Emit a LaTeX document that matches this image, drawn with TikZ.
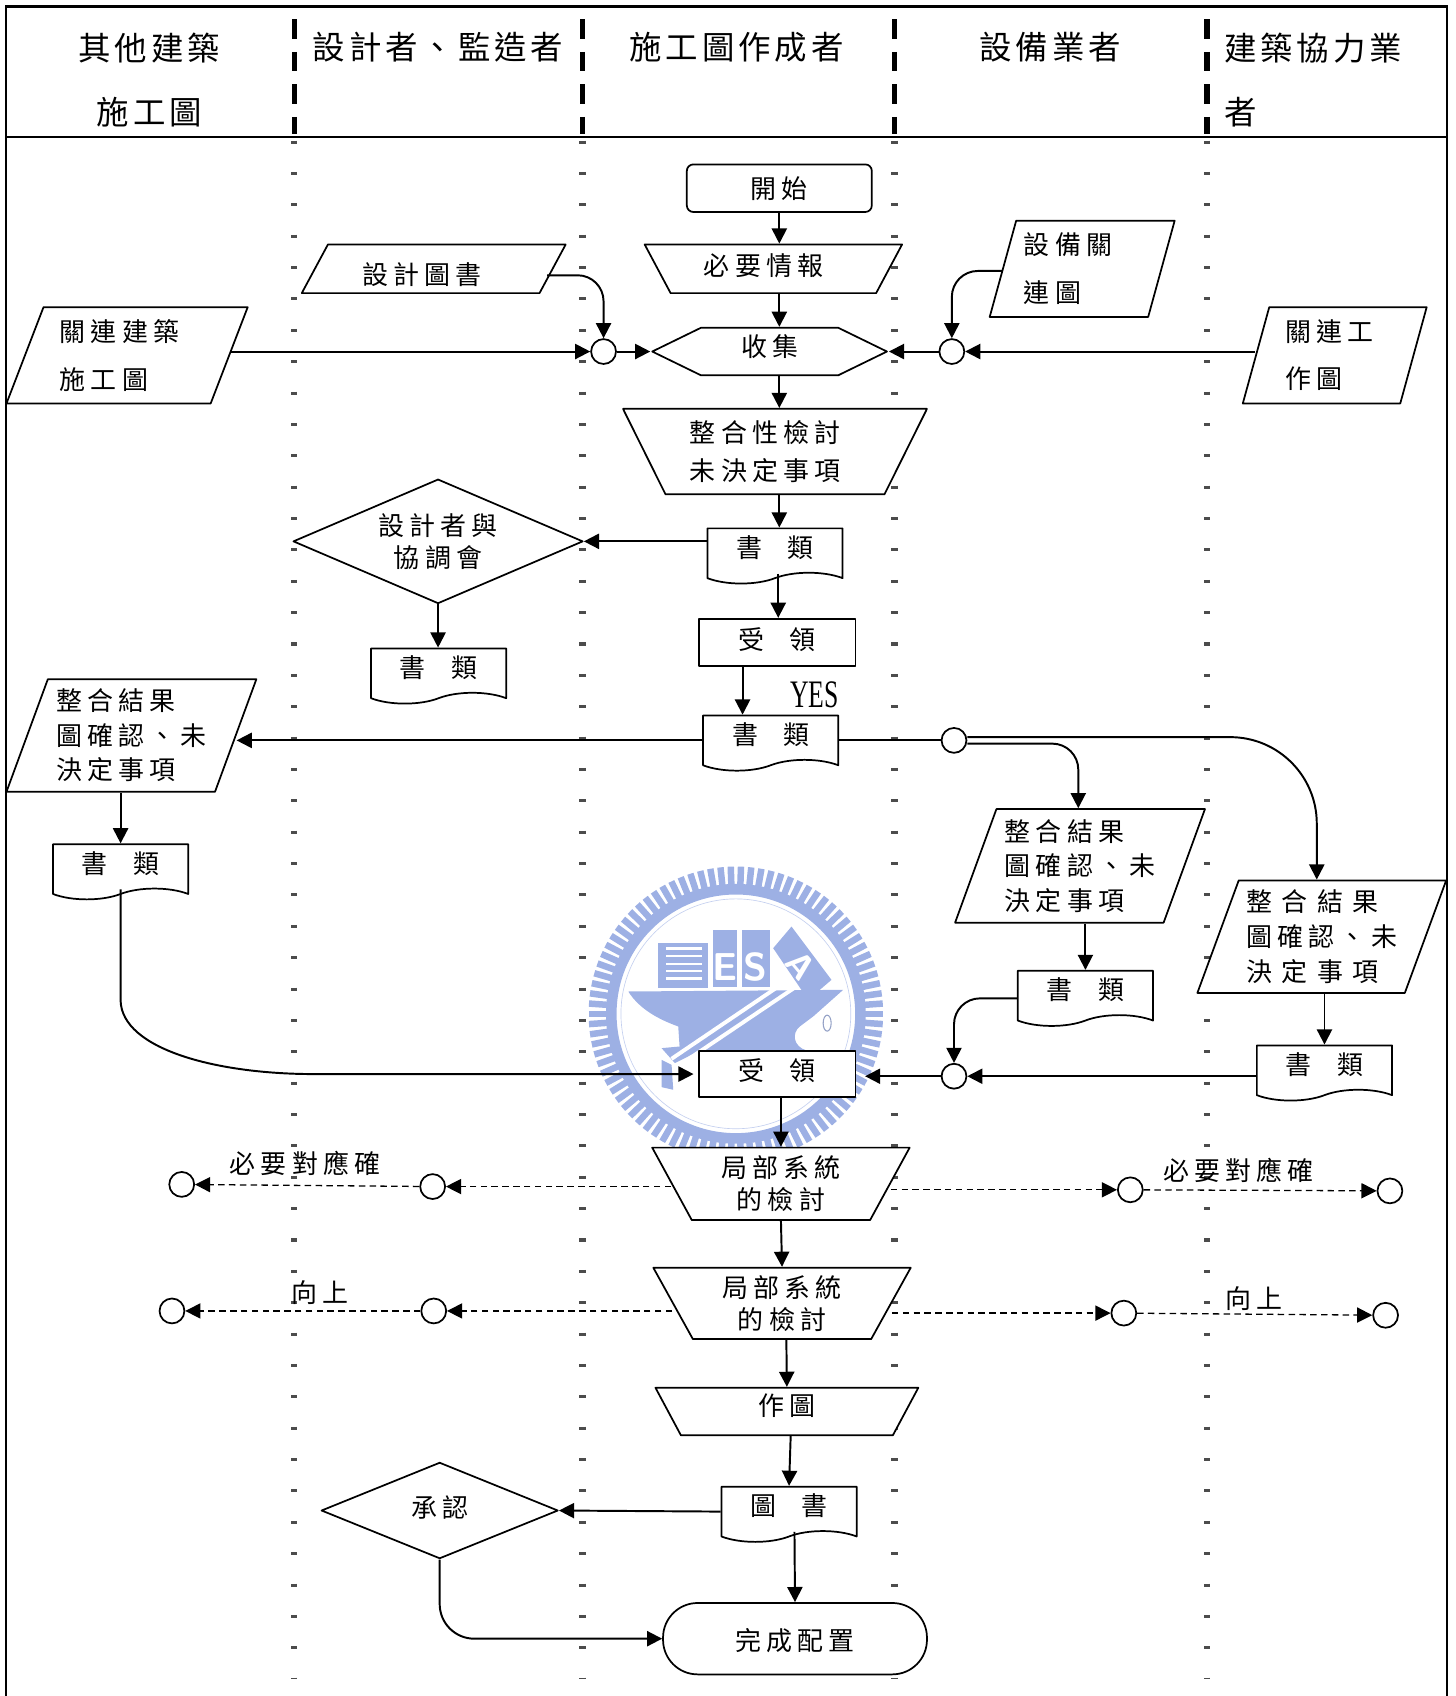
\documentclass[tikz,border=0pt]{standalone}
\usepackage{fontspec}
\usepackage{xcolor}
\usepackage{tikz}
\usetikzlibrary{arrows.meta}
\usetikzlibrary{shapes.geometric,shapes.symbols}
\newfontfamily\cjkhead[LetterSpace=12]{Noto Sans CJK TC}
\newfontfamily\cjkbody[LetterSpace=20,WordSpace=2.3]{Noto Sans CJK TC}
\newfontfamily\cjktight[LetterSpace=19.9,WordSpace=0.85]{Noto Sans CJK TC}
\newfontfamily\latinfont{Liberation Serif}
\definecolor{logoblue}{HTML}{9DB0E4}
\newcommand{\lifttext}[2]{\raisebox{#1}[\height][\depth]{#2}}
\def\framebot{1568}
\def\framelft{5.5}
\def\framergt{1338}

\begin{document}
\begin{tikzpicture}[x=0.5pt, y=-0.5pt,
		>={Triangle[length=7pt,width=7pt]},
		boxline/.style={draw, line width=0.8pt, line join=round, fill=white, inner sep=0pt, font=\cjkbody\fontsize{12}{15}\selectfont},
		leading/.style={font=\cjkbody\fontsize{12}{#1}\selectfont},
		headtext/.style={font=\cjkhead\fontsize{15}{30}\selectfont, inner sep=0pt},
		plaintext/.style={font=\cjkbody\fontsize{12}{15}\selectfont, inner sep=0pt},
		databox/.style={boxline, shape=trapezium, trapezium stretches body, trapezium left angle=#1, trapezium right angle={180-#1}, align=left},
		workbox/.style={boxline, shape=trapezium, trapezium stretches body, trapezium left angle=#1, trapezium right angle=#1, align=center},
		docbox/.style={boxline, shape=tape, tape bend top=none, tape bend bottom=in and out, tape bend height=5pt, minimum width=62.5pt, minimum height=25.5pt},
		recvbox/.style={boxline, rectangle, minimum width=72.5pt, minimum height=22pt},
		meetbox/.style={boxline, shape=diamond, aspect=2.3, align=center},
		joint/.style={draw, line width=0.8pt, fill=white, circle, inner sep=0pt, minimum size=11.5pt},
		link/.style={->, line width=0.9pt},
		dashlink/.style={->, line width=0.6pt, dash pattern=on 3pt off 2pt},
	]
	\useasboundingbox (0,0) rectangle (1346,1568);

	\begin{scope}[shift={(517.7,795)}, x=0.154pt, y=-0.154pt]
		\foreach \a in {0,4,...,356}
			\draw[logoblue, line width=3pt] (528,462) ++(\a:385) -- ++(\a:57);
		\draw[logoblue, line width=4.9pt] (528,462) circle (374);
		\draw[logoblue!60, line width=0.3pt] (528,462) circle (345);
		\fill[logoblue] (295,250) rectangle (445,385);
		\foreach \y in {262,285,308,330,352}
			\fill[white] (318,\y) rectangle (425,\y+7);
		\fill[logoblue] (460,210) rectangle (530,380);
		\fill[logoblue] (545,210) rectangle (630,380);
		\fill[logoblue] (640,265) -- (695,200) -- (815,360) -- (745,420) -- cycle;
		\fill[logoblue] (205,395) -- (850,390) -- (760,470) -- (720,500) .. controls (695,520) and (700,560) .. (740,572) -- (420,572) -- (360,575) -- (355,500) .. controls (300,480) and (240,450) .. cycle;
		\fill[logoblue] (305,565) -- (345,610) -- (420,572) -- (360,560) -- cycle;
		\fill[logoblue] (305,600) -- (335,615) -- (340,690) -- (305,682) -- cycle;
		\draw[white, line width=1.8pt] (335,597) -- (685,360);
		\draw[white, line width=1.8pt] (365,612) -- (702,385);
		\draw[logoblue!70!gray, line width=0.5pt] (802,490) ellipse (12 and 24);
		\node[white, font=\sffamily\bfseries\fontsize{18}{18}\selectfont] (logoe) at (495,322) {E};
		\node[white, font=\sffamily\bfseries\fontsize{18}{18}\selectfont] (logos) at (587,322) {S};
		\node[white, rotate=-50, font=\sffamily\bfseries\fontsize{16}{16}\selectfont] (logoa) at (722,318) {A};
	\end{scope}

	\draw[line width=1pt] (\framelft,\framebot) -- (\framelft,6) -- (\framergt,6) -- (\framergt,\framebot);
	\draw[line width=1pt] (\framelft,127) -- (\framergt,127);
	\foreach \lanex in {272,538.5,827,1116} {
		\draw[line width=2.5pt, dash pattern=on 9pt off 6pt] (\lanex,18) -- (\lanex,124);
		\draw[line width=3pt, black!70, dash pattern=on 1.4pt off 13.1pt] (\lanex,130) -- (\lanex,1552);
	}

	\node[headtext, align=center] (headother) at (138,74) {其他建築\\施工圖};
	\node[headtext] (headdesign) at (405,44) {設計者、監造者};
	\node[headtext] (headshop) at (681,44) {施工圖作成者};
	\node[headtext] (headequip) at (971,44) {設備業者};
	\node[headtext, align=left] (headpartner) at (1214,74) {建築協力業\\者};

	\node[boxline, rectangle, rounded corners=3pt, minimum width=85.5pt, minimum height=22pt] (start) at (720.5,174) {開始};
	\node[workbox=137, minimum width=119pt, minimum height=22.5pt] (info) at (715,248.5) {\lifttext{1.5pt}{必要情報\hspace*{9pt}}};
	\node[databox=42.6, minimum width=122pt, minimum height=22.5pt] (designdoc) at (401,248.5) {\lifttext{-2.5pt}{設計圖書\hspace*{11pt}}};
	\node[databox=69.7, minimum width=85.5pt, minimum height=44.5pt, leading=22pt] (equipdoc) at (1000.5,248.5) {設備關\hspace*{13pt}\\連圖};
	\node[databox=62.7, minimum width=111.5pt, minimum height=44.5pt, leading=22pt] (otherdoc) at (117.5,328.5) {關連建築\hspace*{7pt}\\施工圖};
	\node[databox=69.7, minimum width=85pt, minimum height=44.5pt, leading=22pt] (partnerdoc) at (1234,328.5) {關連工\hspace*{5pt}\\作圖};
	\node[joint] (mergel) at (558,325) {};
	\node[joint] (merger) at (880,325) {};
	\node[boxline, shape=signal, signal to=west and east, signal pointer angle=52, minimum width=108.5pt, minimum height=22pt] (collect) at (711.5,325) {\lifttext{2.5pt}{收集}};
	\node[workbox=124.4, minimum width=140.5pt, minimum height=39.5pt, leading=17.5pt] (check) at (716.5,417.5) {整合性檢討\hspace*{9pt}\\未決定事項\hspace*{9pt}};
	\node[docbox] (doca) at (716.5,509) {\lifttext{1.5pt}{書 類}};
	\node[meetbox, minimum width=134pt, minimum height=57.5pt] (meeting) at (405,500.5) {設計者與\\協調會};
	\node[docbox] (docb) at (405.5,620) {\lifttext{1.5pt}{書 類}};
	\node[recvbox] (recva) at (718.5,594) {\lifttext{1.5pt}{受 領}};
	\node[xscale=0.66, transform shape, inner sep=0pt, font=\latinfont\fontsize{18}{18}\selectfont] (yes) at (753,642) {YES};
	\node[docbox] (docc) at (712.5,682) {\lifttext{1.5pt}{書 類}};
	\node[joint] (mergec) at (882,684.5) {};
	\node[databox=66.1, minimum width=115.5pt, minimum height=52pt, leading=16pt] (resulta) at (121.5,680) {整合結果\\圖確認、未\\決定事項};
	\node[docbox] (docd) at (111.5,801) {\lifttext{1.5pt}{書 類}};
	\node[databox=66.1, minimum width=115.5pt, minimum height=52.5pt, leading=16pt] (resultb) at (998.5,800.5) {整合結果\\圖確認、未\\決定事項};
	\node[docbox] (doce) at (1003.5,918) {\lifttext{1.5pt}{書 類}};
	\node[databox=66.1, minimum width=115pt, minimum height=52pt, font=\cjktight\fontsize{12}{16}\selectfont] (resultc) at (1222,866) {整 合 結 果\\圖確認、未\\決 定 事 項};
	\node[docbox] (docf) at (1224.5,987) {\lifttext{1.5pt}{書 類}};
	\node[recvbox, minimum height=21.5pt] (recvb) at (718.5,993) {\lifttext{1.5pt}{受 領}};
	\node[joint] (merged) at (882,995) {};
	\node[workbox=125, minimum width=119pt, minimum height=33.5pt] (partcheck) at (722,1094.5) {局部系統\\的檢討};
	\node[workbox=125, minimum width=119pt, minimum height=33pt] (uppercheck) at (723,1205) {局部系統\\的檢討};
	\node[workbox=137, minimum width=121.5pt, minimum height=22pt] (drawing) at (727.5,1305) {\lifttext{2.5pt}{作圖}};
	\node[docbox] (docg) at (729.5,1395) {\lifttext{1.5pt}{圖 書}};
	\node[meetbox, minimum width=109.5pt, minimum height=44.5pt, aspect=2.4] (approve) at (406.5,1396.5) {\lifttext{1.5pt}{承認}};
	\node[boxline, rectangle, rounded corners=16pt, minimum width=122pt, minimum height=33pt] (finish) at (735,1515) {\lifttext{-1pt}{完成配置}};

	\node[joint] (needa) at (168,1095) {};
	\node[joint] (needb) at (400,1097) {};
	\node[joint] (needc) at (1045,1100) {};
	\node[joint] (needd) at (1285,1101) {};
	\node[joint] (upa) at (159,1212) {};
	\node[joint] (upb) at (401,1212) {};
	\node[joint] (upc) at (1039,1214) {};
	\node[joint] (upd) at (1281,1216) {};
	\node[plaintext] (needl) at (282,1076) {必要對應確};
	\node[plaintext] (needr) at (1145,1082) {必要對應確};
	\node[plaintext] (upl) at (296,1195) {向上};
	\node[plaintext] (upr) at (1159,1201) {向上};

	\draw[link] (start.south) -- (start.south |- info.top side);
	\draw[link] (start.south |- info.bottom side) -- (start.south |- collect.north);
	\draw[link] (start.south |- collect.south) -- (start.south |- check.top side);
	\draw[link] (start.south |- check.bottom side) -- (start.south |- doca.north);
	\draw[link] (otherdoc.right side |- mergel) -- (mergel);
	\draw[link, rounded corners=12pt] ([xshift=-3pt,yshift=-3pt]designdoc.right side) -| (mergel);
	\draw[link] (mergel) -- (collect.west);
	\draw[link] (partnerdoc.left side |- merger) -- (merger);
	\draw[link, rounded corners=12pt] ([yshift=-1pt]equipdoc.left side) -| (merger);
	\draw[link] (merger) -- (collect.east);
	\draw[link] (doca.west |- meeting.east) -- (meeting.east);
	\draw[link] (meeting.south) -- (meeting.south |- docb.north);
	\draw[link] ([xshift=1.5pt]doca.south) -- ([xshift=1.5pt]doca.south |- recva.north);
	\draw[link] ([xshift=-16pt]recva.south) -- ([xshift=-13pt]docc.north);
	\draw[link] (docc.west |- mergec) -- (mergec -| resulta.right side);
	\draw[line width=0.9pt] (docc.east |- mergec) -- (mergec);
	\draw[link, rounded corners=12pt] ([yshift=-1.5pt]mergec.east) -| ([xshift=-10.5pt]resultb.top side);
	\draw[link, rounded corners=40pt] ([yshift=1.5pt]mergec.east) -| ([xshift=-12pt]resultc.top side);
	\draw[link] (docd.north |- resulta.bottom side) -- (docd.north);
	\draw[link] (doce.north |- resultb.bottom side) -- (doce.north);
	\draw[link] (docf.north |- resultc.bottom side) -- (docf.north);
	\draw[link] (docd.south) -- ++(0,103) .. controls (113,970) and (200,993) .. (290,993) -- ([xshift=-2pt]recvb.west);
	\draw[link, rounded corners=12pt] ([yshift=-2.5pt]doce.west) -| (merged);
	\draw[link] (docf.west |- merged) -- (merged);
	\draw[link, shorten >=4pt] (merged) -- (recvb.east |- merged);
	\draw[link] (recvb.south) ++(3.5,0) -- (partcheck.top side);
	\draw[link] (partcheck.bottom side) -- (uppercheck.top side);
	\draw[link] (uppercheck.bottom side) ++(4,0) -- (drawing.top side);
	\draw[link] (drawing.bottom side) ++(3.5,0) -- (docg.north);
	\draw[link] (docg.west |- approve.east) ++(0,1) -- (approve.east);
	\draw[link] ([xshift=2.5pt]docg.south) -- (finish.north);
	\draw[link, rounded corners=16pt] (approve.south) |- (finish.west);

	\draw[dashlink] (partcheck.left side |- needb) -- (needb);
	\draw[dashlink] (needb) -- (needa);
	\draw[dashlink] (partcheck.right side |- needc) -- (needc);
	\draw[dashlink] (needc) -- (needd);
	\draw[dashlink] (uppercheck.left side |- upb) -- (upb);
	\draw[dashlink] (upb) -- (upa);
	\draw[dashlink] (uppercheck.right side |- upc) -- (upc);
	\draw[dashlink] (upc) -- (upd);
\end{tikzpicture}
\end{document}
